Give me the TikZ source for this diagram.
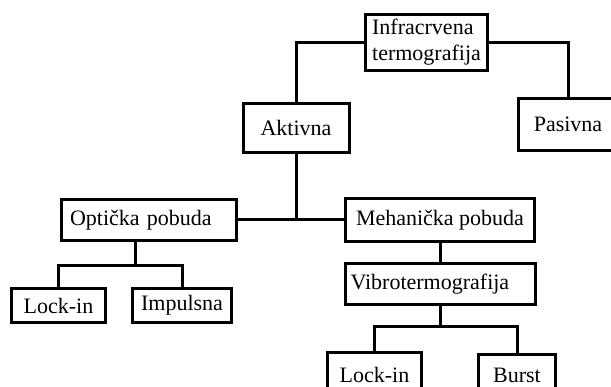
\documentclass[tikz,border=0pt]{standalone}
\usepackage{fontspec}
\setmainfont{Liberation Serif}

\begin{document}
\begin{tikzpicture}[x=1pt, y=-1pt, line width=3pt,
  box/.style={draw=black, line width=3pt, inner sep=0pt, font=\fontsize{22}{26}\selectfont}]
\clip (0,0) rectangle (611,387);
\node[box, minimum width=122, minimum height=56, align=left] (infra) at (426.5, 42.5) {Infracrvena\\termografija};
\node[box, minimum width=106, minimum height=49] (aktivna) at (296, 128) {Aktivna};
\node[box, minimum width=99, minimum height=52] (pasivna) at (568, 124.5) {Pasivna};
\node[box, inner xsep=8.5pt, text width=158pt, align=left, minimum height=41] (opticka) at (149, 220) {Optička pobuda};
\node[box, minimum width=189, minimum height=43] (mehanicka) at (440, 220) {Mehanička pobuda};
\node[box, inner xsep=5.5pt, text width=179pt, align=left, minimum height=41] (vibro) at (440, 284) {Vibrotermografija};
\node[box, minimum width=94, minimum height=34] (lockA) at (58.5, 305.5) {Lock-in};
\node[box, minimum width=99, minimum height=34] (impulsna) at (182, 305.5) {Impulsna};
\node[box, minimum width=94, minimum height=44] (lockB) at (374.5, 374.5) {Lock-in};
\node[box, minimum width=77, minimum height=42] (burst) at (517, 375.5) {Burst};
\coordinate (oj) at (135, 266);
\coordinate (vj) at (440, 327);
\draw (infra.west) -| (aktivna.north);
\draw (infra.east) -| (pasivna.north);
\draw (aktivna.south) -- (aktivna.south |- opticka.east);
\draw (opticka.east) -- (mehanicka.west);
\draw (mehanicka.south) -- (vibro.north);
\draw (oj |- opticka.south) -- (oj);
\draw (lockA.north) |- (oj) -| (impulsna.north);
\draw (vibro.south) -- (vj);
\draw (lockB.north) |- (vj) -| (burst.north);
\end{tikzpicture}
\end{document}
